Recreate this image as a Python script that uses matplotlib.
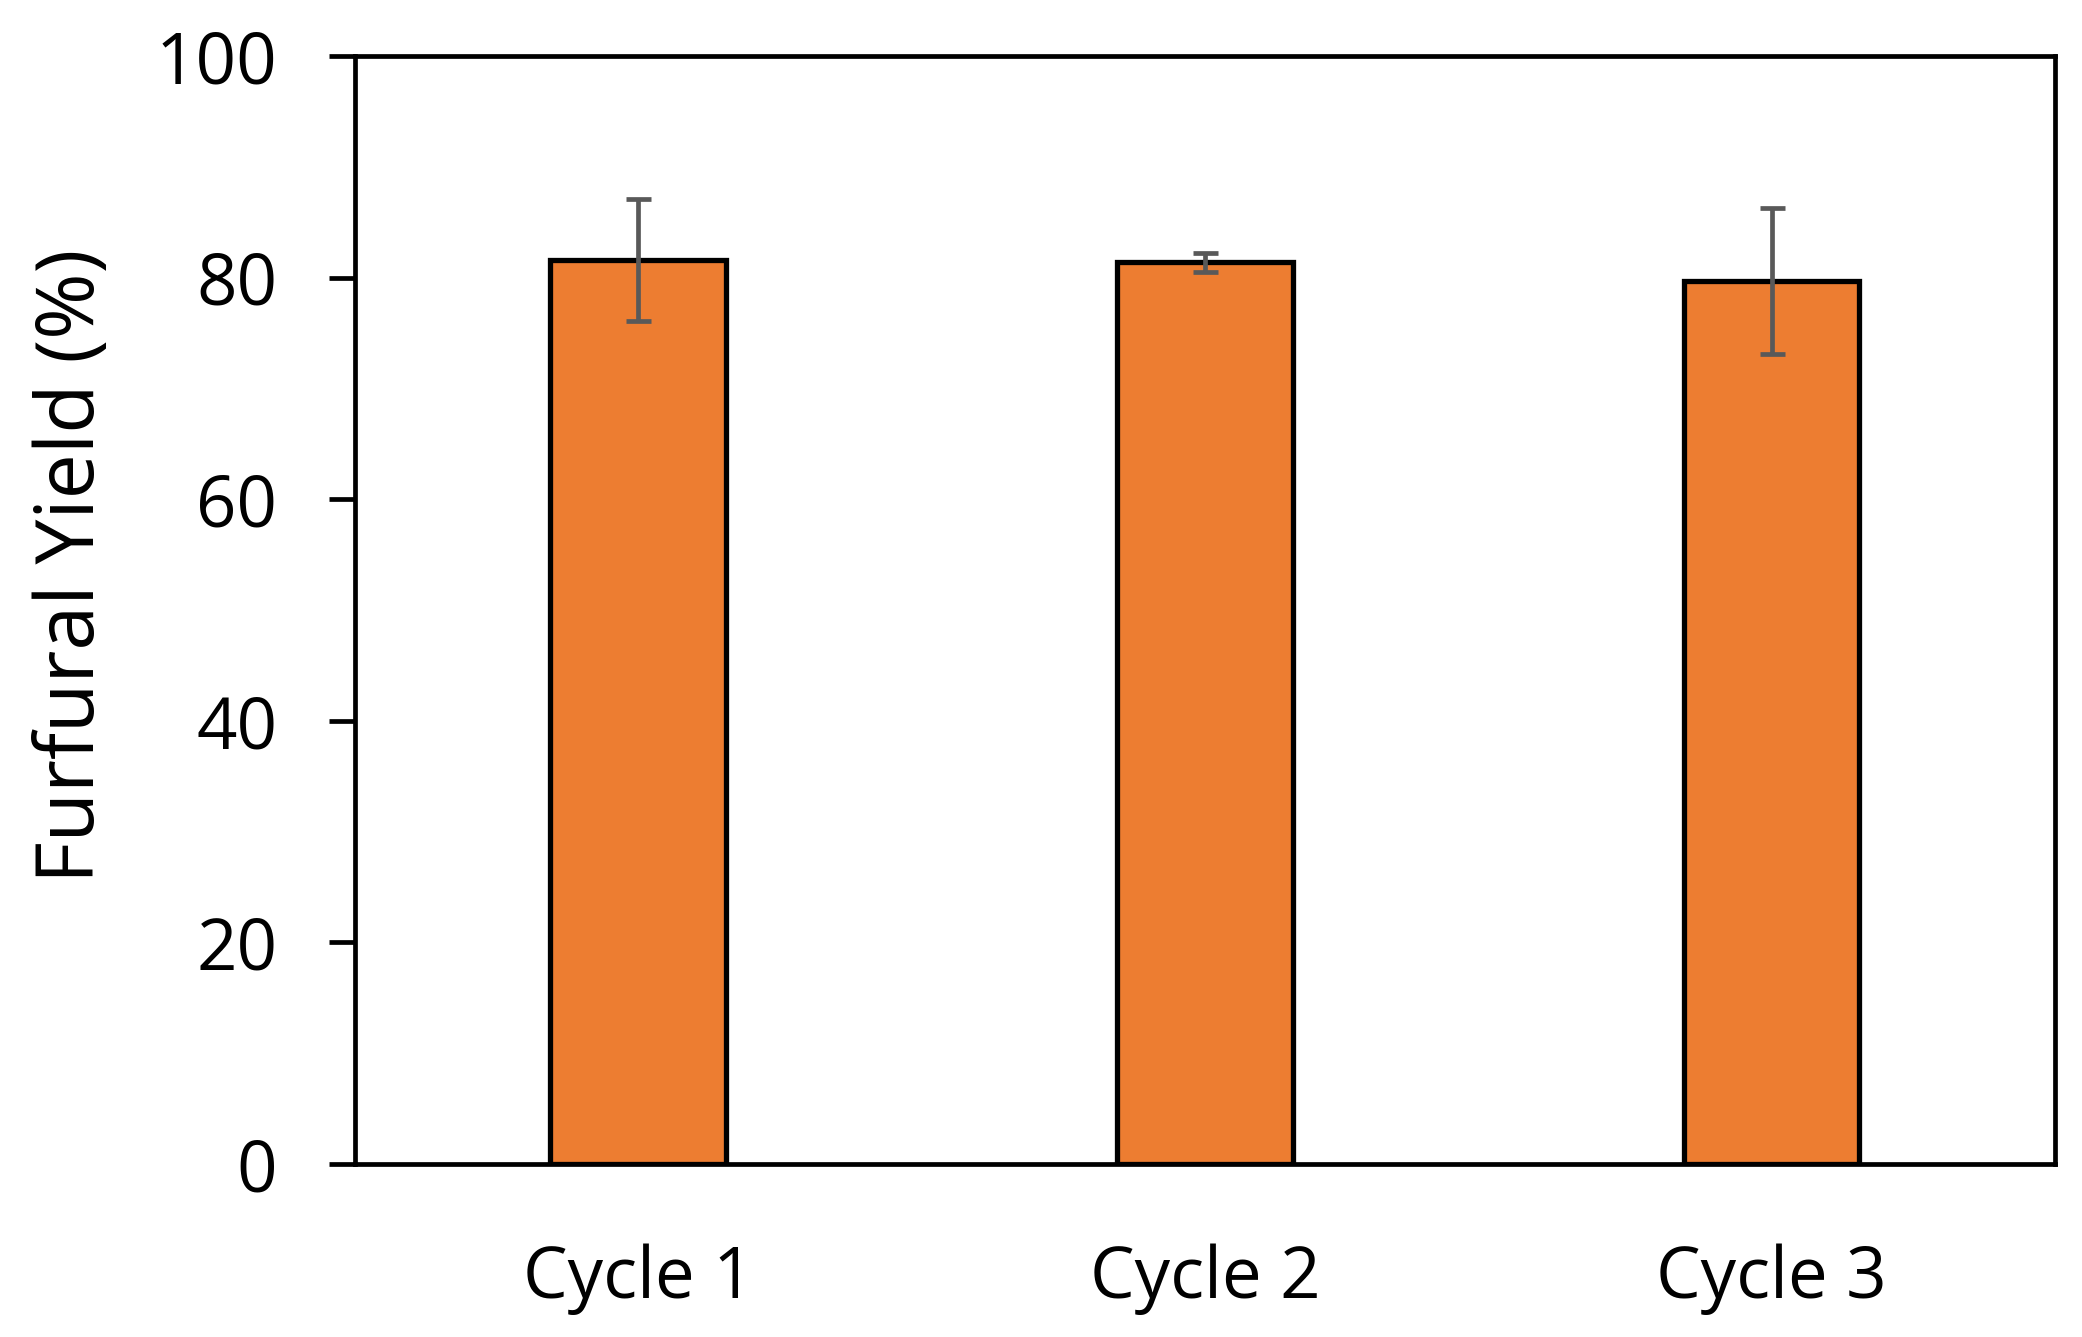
import numpy as np
import matplotlib.pyplot as plt

# furfural yield over catalyst reuse cycles
cycles = ['Cycle 1', 'Cycle 2', 'Cycle 3']
yields = [81.6, 81.4, 79.7]
errors = [5.5, 0.85, 6.6]
yticks = [0, 20, 40, 60, 80, 100]

plt.rcParams['font.family'] = ['Open Sans', 'DejaVu Sans']

fig = plt.figure(figsize=(20.82, 13.37), dpi=100)
ax = fig.add_axes([0.1705, 0.1294, 0.8165, 0.8286])

x = np.arange(len(cycles))
ax.bar(x, yields, width=0.31, color='#ED7D31', edgecolor='black', linewidth=3.8, zorder=2)
ax.errorbar(x, yields, yerr=errors, fmt='none', ecolor='#595959', elinewidth=3.4,
            capsize=9, capthick=3.4, zorder=3)

ax.set_xlim(-0.5, 2.5)
ax.set_ylim(0, 100)
ax.set_yticks(yticks)
ax.set_xticks(x)
ax.set_xticklabels(cycles)

for s in ax.spines.values():
    s.set_linewidth(3.4)

ax.tick_params(axis='y', direction='out', length=19, width=3.4, pad=37, labelsize=51)
ax.tick_params(axis='x', length=0, pad=57, labelsize=51)

fig.text(73/2082, 1 - 566/1337, 'Furfural Yield (%)', rotation=90, ha='center', va='center', fontsize=58)

fig.savefig('out.png', dpi=100)
